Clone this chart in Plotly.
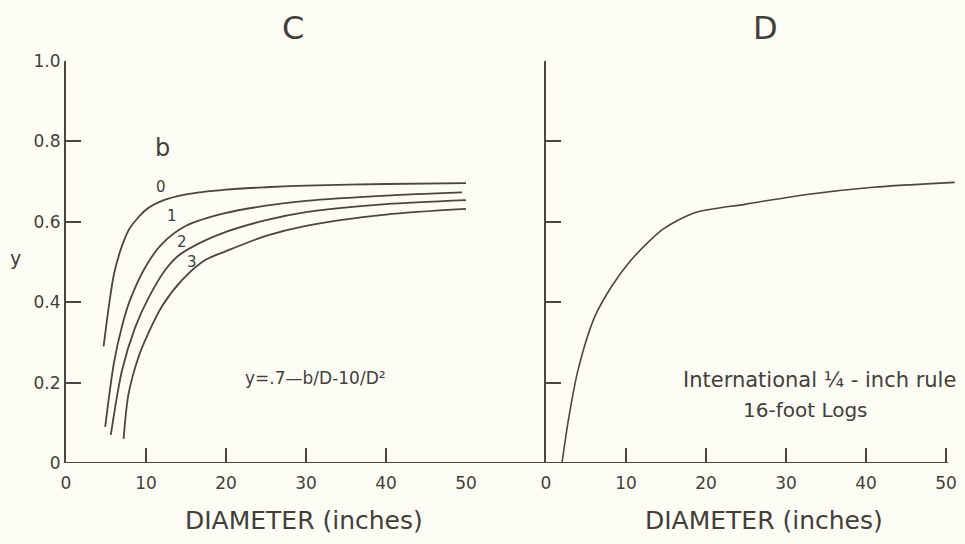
import plotly.graph_objects as go

# ---- data ----
d_b0 = [4.7, 6, 7, 8, 10, 12, 15, 20, 25, 30, 40, 50]
y_b0 = [0.29, 0.47, 0.54, 0.585, 0.63, 0.652, 0.668, 0.68, 0.686, 0.69, 0.694, 0.696]

d_b1 = [4.9, 6, 7, 8, 10, 12, 15, 20, 25, 30, 40, 49.5]
y_b1 = [0.09, 0.25, 0.34, 0.405, 0.49, 0.545, 0.59, 0.622, 0.64, 0.652, 0.665, 0.673]

d_b2 = [5.6, 7, 8.6, 10.3, 12.4, 14, 17, 20, 25, 30, 40, 50]
y_b2 = [0.07, 0.23, 0.335, 0.41, 0.48, 0.515, 0.55, 0.575, 0.604, 0.624, 0.644, 0.654]

d_b3 = [7.2, 7.8, 9, 10, 12, 14.5, 17.4, 20, 25, 30, 40, 50]
y_b3 = [0.06, 0.17, 0.26, 0.31, 0.39, 0.455, 0.505, 0.527, 0.565, 0.59, 0.618, 0.632]

d_intl = [2.0, 2.8, 4.0, 6.1, 8.2, 10.3, 12.4, 14.5, 16.5, 19, 25, 32.6, 40.9, 51.1]
y_intl = [0.0, 0.107, 0.231, 0.364, 0.439, 0.497, 0.542, 0.58, 0.604, 0.625, 0.644, 0.668, 0.686, 0.698]

x_ticks = [0, 10, 20, 30, 40, 50]
y_ticks = [0, 0.2, 0.4, 0.6, 0.8, 1.0]
y_ticktext = ["0", "0.2", "0.4", "0.6", "0.8", "1.0"]
b_labels = ["0", "1", "2", "3"]

INK = "#4b4642"
TXT = "#433e3a"
BG = "#fdfdf6"
FONT = "DejaVu Sans"
# page renders the figure inside an 8px body margin
OX, OY = 8, 8
W, H = 949, 528


def fx(px):
    return min(1.0, max(0.0, (px - OX) / W))


def fy(py):
    return min(1.0, max(0.0, 1 - (py - OY) / H))


fig = go.Figure()
for d, y in [(d_b0, y_b0), (d_b1, y_b1), (d_b2, y_b2), (d_b3, y_b3)]:
    fig.add_trace(go.Scatter(x=d, y=y, mode="lines", xaxis="x", yaxis="y",
                             line=dict(color=INK, width=1.8, shape="spline", smoothing=0.8),
                             hoverinfo="skip", showlegend=False))
fig.add_trace(go.Scatter(x=d_intl, y=y_intl, mode="lines", xaxis="x2", yaxis="y2",
                         line=dict(color=INK, width=1.6, shape="spline", smoothing=0.8),
                         hoverinfo="skip", showlegend=False))

ydom = [fy(463), fy(61)]
right_end = OX + W  # 957 px
common_x = dict(tickvals=x_ticks, ticks="inside", ticklen=15, tickwidth=2, tickcolor=INK,
                showline=False, showgrid=False, zeroline=False, automargin=False,
                ticklabelstandoff=8,
                tickfont=dict(family=FONT, size=17, color=TXT))
common_y = dict(range=[0, 1], domain=ydom, tickvals=y_ticks, ticks="inside", ticklen=15,
                tickwidth=2, tickcolor=INK, showline=True, linewidth=2, linecolor=INK,
                showgrid=False, zeroline=False, automargin=False)

fig.update_layout(
    width=W, height=H,
    margin=dict(l=0, r=0, t=0, b=0),
    paper_bgcolor=BG, plot_bgcolor=BG,
    xaxis=dict(domain=[fx(66), fx(466)], range=[0, 50], anchor="y", **common_x),
    xaxis2=dict(domain=[fx(546), fx(right_end)], range=[0, (right_end - 546) / 8], anchor="y2", **common_x),
    yaxis=dict(anchor="x", ticktext=y_ticktext,
               tickfont=dict(family=FONT, size=17, color=TXT), **common_y),
    yaxis2=dict(anchor="x2", showticklabels=False, **common_y),
    shapes=[dict(type="line", xref="paper", yref="y", x0=fx(66), x1=fx(948), y0=0, y1=0,
                 line=dict(color=INK, width=2))],
)


def px_ann(text, x, y, size):
    fig.add_annotation(text=text, x=fx(x), y=fy(y), xref="paper", yref="paper",
                       xanchor="center", yanchor="middle", showarrow=False,
                       font=dict(family=FONT, size=size, color=TXT))


px_ann("C", 293, 28, 32)
px_ann("D", 765, 28, 32)
px_ann("y", 16, 258, 19)
px_ann("b", 162, 148, 24)
for lab, (lx, ly) in zip(b_labels, [(161, 187), (172, 216), (182, 242), (192, 262)]):
    px_ann(lab, lx, ly, 15)
px_ann("y=.7—b/D-10/D²", 315, 378, 17)
px_ann("International ¼ - inch rule", 819, 380, 21)
px_ann("16-foot Logs", 805, 410, 20)
px_ann("DIAMETER (inches)", 304, 520, 25)
px_ann("DIAMETER (inches)", 764, 520, 25)

fig.write_html("out.html", post_script="document.body.style.backgroundColor='#fdfdf6';")
